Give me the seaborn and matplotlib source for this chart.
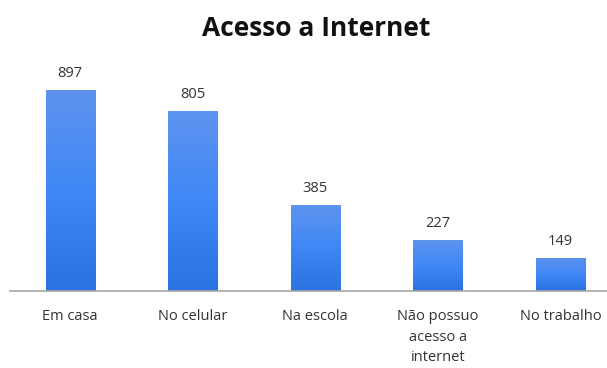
import numpy as np
import pandas as pd
import matplotlib
matplotlib.use("Agg")
import matplotlib.pyplot as plt
import seaborn as sns
from matplotlib.colors import LinearSegmentedColormap

categories = ["Em casa", "No celular", "Na escola", "Não possuo\nacesso a\ninternet", "No trabalho"]
values = [897, 805, 385, 227, 149]

sns.set_theme(style="white")
plt.rcParams['font.family'] = ['Open Sans', 'DejaVu Sans']

fig = plt.figure(figsize=(6.07, 3.68), dpi=100)
ax = fig.add_axes([10/607, 77/368, 597/607, 224/368])

df = pd.DataFrame({"cat": categories, "val": values})
sns.barplot(data=df, x="cat", y="val", ax=ax, color="#3d87f5", width=0.4, saturation=1)

cmap = LinearSegmentedColormap.from_list("g", ["#2a72e0", "#3f88f6", "#5e93ef"])
grad = np.linspace(0, 1, 256).reshape(-1, 1)
for p in ax.patches:
    x0, y0 = p.get_x(), p.get_y()
    w, h = p.get_width(), p.get_height()
    im = ax.imshow(grad, cmap=cmap, aspect="auto", origin="lower",
                   extent=[x0, x0 + w, y0, y0 + h], zorder=p.get_zorder() + 0.1)
    im.set_clip_path(p)
    ax.text(x0 + w / 2, h + 40, f"{int(h)}", ha="center", va="bottom",
            fontsize=10.5, color="#333333")

ax.set_xlim(-0.49, 4.38)
ax.set_ylim(0, 1000)
ax.set_xlabel("")
ax.set_ylabel("")
ax.set_yticks([])
for s in ["top", "right", "left"]:
    ax.spines[s].set_visible(False)
ax.spines["bottom"].set_color("#a6a6a6")
ax.spines["bottom"].set_linewidth(1.2)
ax.tick_params(axis="x", length=0, pad=13, labelsize=10.5, labelcolor="#333333")
for t in ax.get_xticklabels():
    t.set_linespacing(1.5)

fig.text(316/607, 1 - 29/368, "Acesso a Internet", ha="center", va="center",
         fontsize=19, fontweight="bold", color="#111111")

fig.savefig("out.png", dpi=100)
